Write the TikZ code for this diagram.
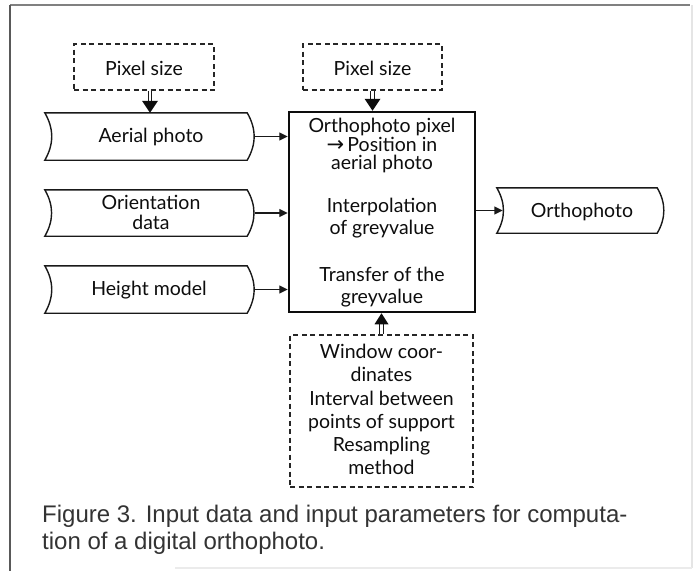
\documentclass[tikz,border=0pt]{standalone}
\usepackage{fontspec}
\setmainfont{Lato}
\newfontfamily\capfont{Liberation Sans}
\newfontfamily\symfont{DejaVu Sans}
\usetikzlibrary{arrows.meta,calc}

% outline of a data symbol: concave left side, convex right side
\newcommand\datapath[2][8]{%
  \draw[shapeline] (#2.north west) to[out=-60,in=60] (#2.south west)
    -- ([xshift=-#1pt]#2.south east) to[out=60,in=-60] ([xshift=-#1pt]#2.north east) -- cycle;}
% one line of text, placed by its baseline
\newcommand\txt[3]{\node[lbl,anchor=base] (#1) at (#2) {#3};}

\begin{document}
\begin{tikzpicture}[x=1pt,y=1pt,
  lbl/.style={font=\fontsize{19.5}{19.5}\selectfont, text=black!95, inner sep=0pt},
  shapeline/.style={line width=1.4pt, black!90},
  dashbox/.style={draw=black!85, line width=1.3pt, dash pattern=on 5pt off 3.5pt, inner sep=0pt},
  datanode/.style={inner sep=0pt, minimum width=210pt, minimum height=47pt},
  mainbox/.style={draw=black!95, line width=2.5pt, inner sep=0pt},
  arr/.style={line width=1.4pt, black!90, -{Triangle[length=8.5pt,width=8pt]}},
  dblstem/.style={double=white, double distance=2.6pt, line width=0.75pt, draw=black!90},
  headfill/.style={fill=black!95},
  framebar/.style={line width=1.3pt}
]
\useasboundingbox (0,0) rectangle (694,-571);

% page frame
\draw[framebar, black!50] (10,-5) -- (690,-5);
\draw[framebar, black!65] (10,-5) -- (10,-571);
\draw[framebar, black!10] (692,-5) -- (692,-568);
\draw[framebar, black!8] (175,-568) -- (692,-568);

% parameter boxes
\node[dashbox, minimum width=140pt, minimum height=46pt] (ps1) at (144,-67) {};
\node[dashbox, minimum width=139pt, minimum height=46pt] (ps2) at (372.5,-67) {};
\node[dashbox, minimum width=183pt, minimum height=152pt] (win) at (381.5,-411) {};

% processing box
\node[mainbox, minimum width=186pt, minimum height=200pt] (main) at (382,-212) {};

% data symbols
\node[datanode] (aerial) at (150,-136.5) {};
\node[datanode, minimum height=46pt] (orient) at (150,-213) {};
\node[datanode] (height) at (150,-289.5) {};
\node[datanode, minimum width=167pt, minimum height=45pt] (ortho) at (580.5,-210.5) {};
\datapath{aerial}
\datapath{orient}
\datapath{height}
\datapath[7]{ortho}

% texts
\txt{tps1}{144,-75}{Pixel size}
\txt{tps2}{372.5,-75}{Pixel size}
\txt{taer}{151,-142}{Aerial photo}
\txt{tor1}{151,-209.5}{Orientation}
\txt{tor2}{151,-229}{data}
\txt{thgt}{149,-295}{Height model}
\txt{tort}{582,-217}{Orthophoto}
\txt{m1}{382,-132}{Orthophoto pixel}
\txt{m2}{382,-151}{\smash{\symfont\fontsize{21}{21}\selectfont →}\,Position in}
\txt{m3}{382,-169}{aerial photo}
\txt{m4}{382,-212}{Interpolation}
\txt{m5}{382,-234}{of greyvalue}
\txt{m6}{382,-281}{Transfer of the}
\txt{m7}{382,-303}{greyvalue}
\txt{w1}{381.5,-358}{Window coor-}
\txt{w2}{381.5,-381}{dinates}
\txt{w3}{381.5,-405}{Interval between}
\txt{w4}{381.5,-428}{points of support}
\txt{w5}{381.5,-451}{Resampling}
\txt{w6}{381.5,-474}{method}

% caption
\tikzset{captext/.style={anchor=base west, inner sep=0pt, text=black!80, font=\capfont\fontsize{24}{24}\selectfont}}
\node[captext] (cap1) at (42,-522) {Figure 3. Input data and input parameters for computa-};
\node[captext] (cap2) at (42,-549) {tion of a digital orthophoto.};

% data flow into and out of the processing box
\draw[arr] (aerial.east) -- (aerial.east -| main.west);
\draw[arr] (orient.east) -- (orient.east -| main.west);
\draw[arr] (height.east) -- (height.east -| main.west);
\draw[arr] (main.east |- ortho.west) -- ([xshift=6pt]ortho.west);

% parameter arrows (double stem, broad head)
\draw[dblstem] (ps1.south -| aerial.north) -- ([yshift=11pt]aerial.north);
\fill[headfill] (aerial.north) -- ++(-8,12) -- ++(16,0) -- cycle;
\draw[dblstem] (ps2.south) -- ([yshift=11pt]ps2.south |- main.north);
\fill[headfill] (ps2.south |- main.north) -- ++(-8,12) -- ++(16,0) -- cycle;
\draw[dblstem] (win.north) -- ([yshift=-10pt]win.north |- main.south);
\fill[headfill] (win.north |- main.south) -- ++(-7,-11) -- ++(14,0) -- cycle;
\end{tikzpicture}
\end{document}
